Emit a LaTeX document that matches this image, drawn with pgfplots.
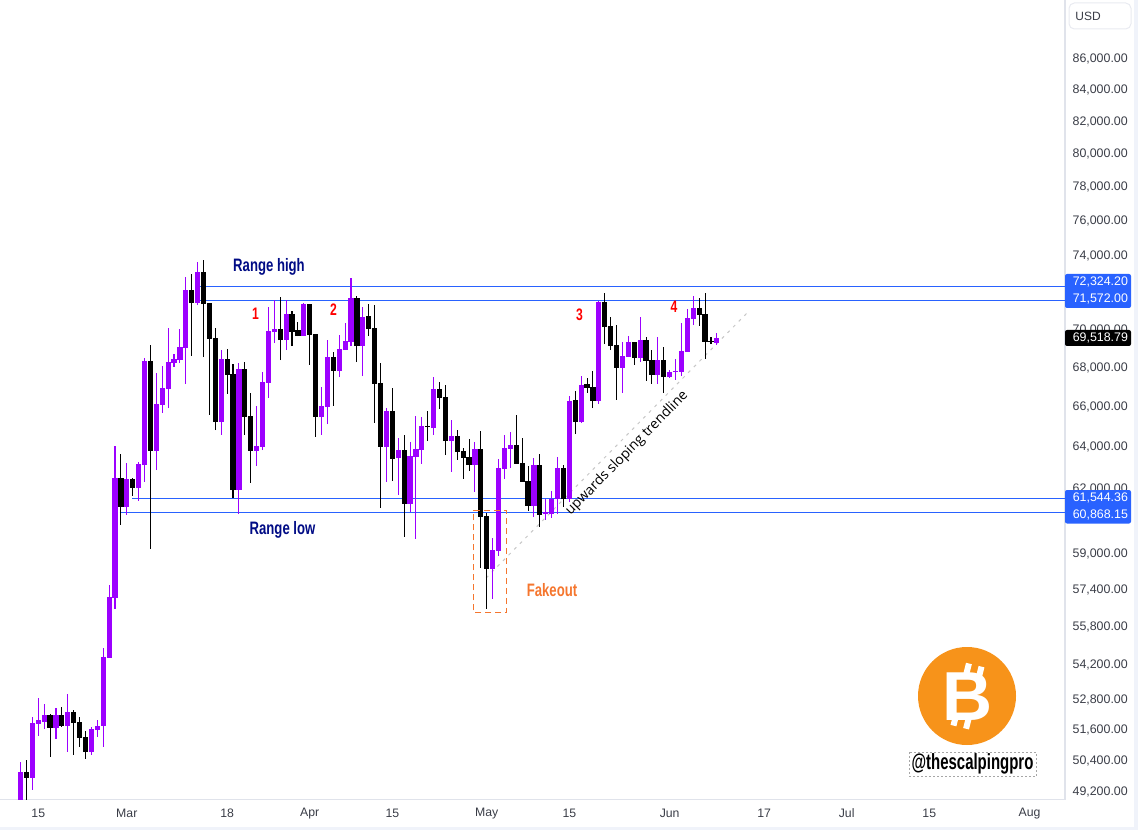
\documentclass[border=0pt]{standalone}
\usepackage{pgfplots}
\usepackage{pgfplotstable}
\pgfplotsset{compat=1.18}
\usepackage{fontspec}
\setmainfont{Liberation Sans}
\newfontfamily\cond[FakeStretch=0.73]{Liberation Sans}
\newfontfamily\condb[FakeStretch=0.68]{Liberation Sans}
\newfontfamily\annot{Open Sans}
\definecolor{pur}{HTML}{9C00FF}
\definecolor{lvl}{HTML}{2962FF}
\definecolor{pane}{HTML}{E0E3EB}
\definecolor{strip}{HTML}{F0F3FA}
\definecolor{txt}{HTML}{3A3D47}
\definecolor{navy2}{HTML}{000B85}
\definecolor{fake}{HTML}{F5762E}
\definecolor{btc}{HTML}{F7931A}
\pgfplotstableread{
d high top bot low
-3 50339 49957 48160 47800
-1 52095 51858 49730 49277
0 52855 51976 51818 51347
1 52614 52175 51897 51621
3 52454 52175 51660 51230
5 53016 52294 51739 50724
9 51700 51621 50724 50610
10 51976 51739 51582 51308
11 54907 54531 51739 50918
12 57606 57081 54490 54490
13 64038 62496 57038 56562
15 63214 62449 61131 60760
17 63262 63166 62022 61411
18 68478 68321 63118 62306
20 67700 66120 63795 62878
21 68062 66931 66070 65668
22 70061 68269 66880 65919
23 68687 68426 68217 68010
24 70007 69054 68373 68217
25 72835 72117 69001 67135
27 73672 73113 71407 71298
31 68896 68426 65219 64577
34 68217 67906 61928 60806
37 66020 64038 63795 63070
38 67751 67237 63990 63843
39 71190 69900 67186 66424
40 71570 70007 69847 69264
42 71570 70810 69423 68896
45 71407 71352 69635 69635
48 66982 66020 65468 64577
49 69423 68530 65970 65120
51 69688 68948 67803 67494
52 70327 69370 68896 68896
53 72780 71680 69317 69107
55 71190 70650 69107 67545
59 65919 65768 63990 62306
61 64430 63843 63455 61692
63 64233 63552 61270 60898
64 65518 63892 63504 59658
65 65468 65020 63843 63166
67 67494 66880 64922 64577
70 65319 64528 64282 62782
74 64233 63892 63118 61833
77 59704 59161 58311 56994
78 63407 62974 59116 58892
79 64577 63941 62926 62449
80 64724 64087 63892 62974
84 63455 63118 61178 60667
86 61505 60898 60806 60528
87 61880 61505 60806 60620
88 63504 62974 61505 60806
90 66524 66271 61505 61364
92 67545 67084 65219 65170
95 71516 71461 66271 66120
99 69317 68582 67958 66676
100 69635 69317 68530 68530
102 70650 69423 68478 68269
105 69581 68373 67597 67135
107 67855 67751 67494 67442
108 68426 67803 67751 67340
109 70327 68843 67751 67545
110 71082 70596 68791 68791
111 71788 71136 70542 70220
115 69794 69519 69264 69160
}\upc
\pgfplotstableread{
d high top bot low
-2 50416 49957 49730 48532
2 52215 52175 51660 50531
4 52494 52175 51739 51700
6 52374 52294 51858 50610
7 52095 51897 51268 50918
8 51542 51308 50724 50454
14 63649 62496 61131 60298
16 62496 62449 62022 61645
19 69160 68321 63795 59206
26 73000 72117 71407 68582
28 73785 73113 71352 68530
29 71407 71407 69476 65568
30 70061 69529 65219 64823
32 68948 68426 67597 66625
33 68165 67648 61928 61552
35 68269 67906 65468 64577
36 66676 65518 63795 62259
41 71734 70007 69423 68373
43 70973 70810 69847 69107
44 70381 69954 69635 69635
46 71352 71352 69688 68113
47 69741 69741 65468 64479
50 68791 68530 67803 66020
54 71788 71680 69107 68269
56 71352 70704 70007 69635
57 71298 70061 67135 65170
58 68217 67186 63990 61084
60 66931 65768 63407 62354
62 64577 63843 61270 59750
66 65768 65020 64971 64282
68 67237 66880 66424 65869
69 67084 66475 64282 63600
71 64823 64528 63746 63359
72 63941 63795 63455 62449
73 64380 63504 63118 62830
75 64774 63892 60667 58355
76 60852 60714 58311 56562
81 65568 64087 63166 63166
82 64430 63214 62306 62306
83 63070 62354 61178 60944
85 63649 63118 60760 60205
89 63118 62974 61505 61131
91 66778 66322 65219 64626
93 67442 67135 66931 66676
94 67803 66982 66271 65919
96 71952 71461 70114 69212
97 70650 70168 69107 68896
98 70220 69160 67958 66322
101 69317 69317 68478 68113
103 69581 69423 68321 67288
104 68896 68373 67597 67135
106 69054 68373 67494 66676
112 71680 71136 70757 70168
113 71952 70810 69317 68426
114 69581 69370 69317 69212
}\downc
\newcommand\candles[2]{%
  \pgfplotstablegetrowsof{#1}\pgfmathtruncatemacro\nrows{\pgfplotsretval-1}%
  \pgfplotsinvokeforeach{0,...,\nrows}{%
    \pgfplotstablegetelem{##1}{d}\of{#1}\let\cD\pgfplotsretval
    \pgfplotstablegetelem{##1}{high}\of{#1}\let\cH\pgfplotsretval
    \pgfplotstablegetelem{##1}{top}\of{#1}\let\cT\pgfplotsretval
    \pgfplotstablegetelem{##1}{bot}\of{#1}\let\cB\pgfplotsretval
    \pgfplotstablegetelem{##1}{low}\of{#1}\let\cL\pgfplotsretval
    \edef\temp{\noexpand\addplot[#2,line width=0.8pt,forget plot] coordinates {(\cD,\cL) (\cD,\cH)};%
      \noexpand\addplot[#2,line width=3.9pt,forget plot] coordinates {(\cD,\cB) (\cD,\cT)};}%
    \temp
  }%
}
\begin{document}
\begin{tikzpicture}[x=0.75pt,y=-0.75pt]
\useasboundingbox (0,0) rectangle (1138,830);
\begin{axis}[
  at={(0pt,-600pt)}, anchor=south west,
  scale only axis, width=798.75pt, height=600pt,
  ymode=log, log basis y=10,
  xmin=-6.49, xmax=174, ymin=48903, ymax=89957,
  axis x line*=bottom, axis y line*=right,
  axis line style={draw=pane,line width=1pt,-},
  major tick length=0pt, minor tick num=0, yminorticks=false,
  xtick={0,15,32,46,60,76,90,107,123,137,151,168},
  xticklabels={15,Mar,18,Apr,15,May,15,Jun,17,Jul,15,Aug},
  ytick={86000,84000,82000,80000,78000,76000,74000,70000,68000,66000,64000,62000,59000,57400,55800,54200,52800,51600,50400,49200},
  yticklabels={{86,000.00},{84,000.00},{82,000.00},{80,000.00},{78,000.00},{76,000.00},{74,000.00},{70,000.00},{68,000.00},{66,000.00},{64,000.00},{62,000.00},{59,000.00},{57,400.00},{55,800.00},{54,200.00},{52,800.00},{51,600.00},{50,400.00},{49,200.00}},
  xticklabel style={font=\fontsize{9.2}{11}\selectfont,text=txt,anchor=center,inner sep=0pt,yshift=-10.3pt},
  yticklabel style={font=\fontsize{9.3}{11}\selectfont,text=txt,anchor=west,inner sep=0pt,xshift=5.5pt,yshift=-0.2pt},
]
% level lines
\addplot[lvl,line width=0.75pt,forget plot] coordinates {(27.4,72324.2) (174,72324.2)};
\addplot[lvl,line width=0.75pt,forget plot] coordinates {(26.7,71572) (174,71572)};
\addplot[lvl,line width=0.75pt,forget plot] coordinates {(15.9,61544.36) (174,61544.36)};
\addplot[lvl,line width=0.75pt,forget plot] coordinates {(13.8,60868.15) (174,60868.15)};
% trendline
\addplot[black!22,line width=0.75pt,dash pattern=on 2.25pt off 3.75pt,forget plot] coordinates {(75.9,57913) (120.6,71027)};
% candles
\candles{\upc}{pur}
\candles{\downc}{black}
% fakeout box
\addplot[fake,line width=0.75pt,dash pattern=on 4.5pt off 3pt,forget plot] coordinates {(73.8,60976) (79.3,60976) (79.3,56390) (73.8,56390) (73.8,60976)};
\end{axis}
% strips
\fill[strip] (0,826.7) rectangle (1138,830);
\fill[strip] (1134,0) rectangle (1138,830);
% USD button
\draw[draw=pane!70,line width=0.75pt,rounded corners=4pt,fill=white] (1069,3) rectangle (1131,29);
\node[font=\fontsize{9}{11}\selectfont,text=txt,anchor=center,inner sep=0pt] at (1088,16) {USD};
% tags
\fill[lvl,rounded corners=1.5pt] (1065,274) rectangle (1131,308);
\fill[lvl,rounded corners=1.5pt] (1065,490) rectangle (1131,523.5);
\fill[black,rounded corners=1.5pt] (1065,330) rectangle (1131,346);
\begin{scope}[every node/.style={font=\fontsize{9.3}{11}\selectfont,text=white,anchor=west,inner sep=0pt}]
\node at (1072.5,282) {72,324.20};
\node at (1072.5,299.3) {71,572.00};
\node at (1072.5,338.2) {69,518.79};
\node at (1072.5,498) {61,544.36};
\node at (1072.5,515.3) {60,868.15};
\end{scope}
% annotations
\begin{scope}[every node/.style={inner sep=0pt,anchor=center}]
\node[text=navy2,font=\cond\bfseries\fontsize{13.5}{15}\selectfont] at (269,267) {Range high};
\node[text=navy2,font=\cond\bfseries\fontsize{13.5}{15}\selectfont] at (282.5,530) {Range low};
\node[text=fake,font=\cond\bfseries\fontsize{13.5}{15}\selectfont] at (552,590) {Fakeout};
\node[text=red,font=\cond\bfseries\fontsize{12.5}{15}\selectfont] at (255.5,313.5) {1};
\node[text=red,font=\cond\bfseries\fontsize{12.5}{15}\selectfont] at (333.5,310) {2};
\node[text=red,font=\cond\bfseries\fontsize{12.5}{15}\selectfont] at (579.5,315) {3};
\node[text=red,font=\cond\bfseries\fontsize{12.5}{15}\selectfont] at (674,307) {4};
\node[text=black,rotate=45.5,font=\annot\fontsize{10.4}{12}\selectfont] at (627,453.5) {upwards sloping trendline};
\end{scope}
% logo
\fill[btc] (967,696) circle (49);
\begin{scope}[shift={(967,696)},rotate=-14]
\node[text=white,inner sep=0pt,anchor=center,font=\bfseries\fontsize{52}{54}\selectfont] at (1,0) {B};
\fill[white] (-9,-32) rectangle (-3,-19);
\fill[white] (4,-32) rectangle (10,-19);
\fill[white] (-9,19) rectangle (-3,32);
\fill[white] (4,19) rectangle (10,32);
\end{scope}
% handle
\draw[black!35,line width=0.6pt,dash pattern=on 1.5pt off 1.5pt] (909.5,752) rectangle (1036,776.5);
\node[text=black,inner sep=0pt,anchor=center,font=\condb\bfseries\fontsize{16.5}{18}\selectfont] at (972.5,764) {@thescalpingpro};
\end{tikzpicture}
\end{document}
